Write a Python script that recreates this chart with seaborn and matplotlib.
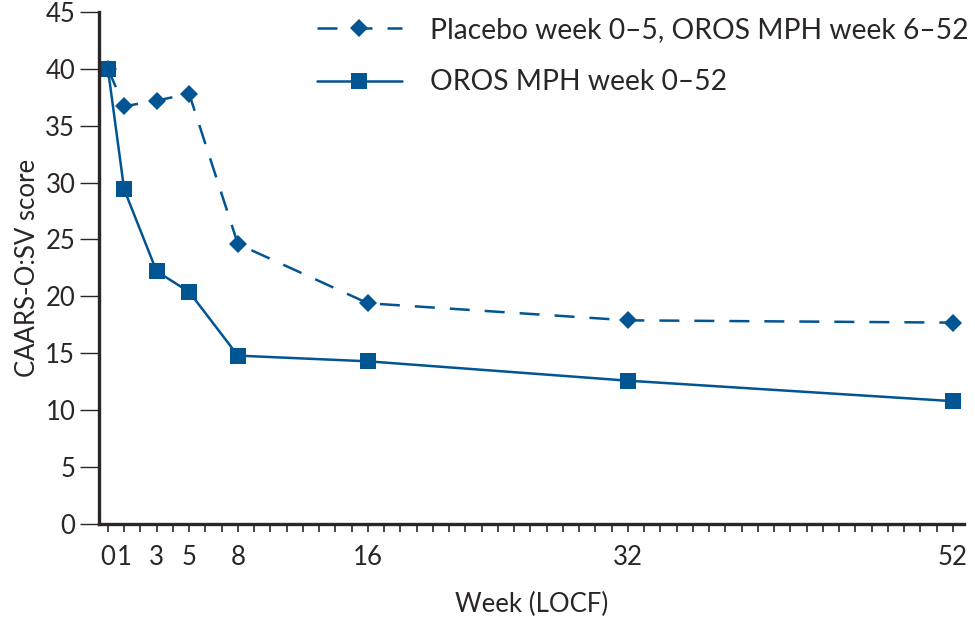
"""CAARS-O:SV score over 52 weeks, placebo-first vs OROS MPH throughout."""

import pandas as pd
import matplotlib.pyplot as plt
import seaborn as sns

weeks = [0, 1, 3, 5, 8, 16, 32, 52]
placebo_first = [40.0, 36.7, 37.2, 37.8, 24.6, 19.4, 17.9, 17.7]
oros_all = [40.0, 29.4, 22.2, 20.4, 14.8, 14.3, 12.6, 10.8]
y_ticks = [0, 5, 10, 15, 20, 25, 30, 35, 40, 45]

LBL_PLACEBO = "Placebo week 0\u20135, OROS MPH week 6\u201352"
LBL_OROS = "OROS MPH week 0\u201352"
BLUE = "#005592"
INK = "#2a2627"

sns.set_theme(style="ticks")
plt.rcParams['font.family'] = ['Lato', 'DejaVu Sans']

df = pd.DataFrame({"Week": weeks, "placebo": placebo_first, "oros": oros_all})

fig = plt.figure(figsize=(9.75, 6.21), dpi=100)
ax = fig.add_axes([0.1015, 0.156, 0.8875, 0.825])

sns.lineplot(data=df, x="Week", y="placebo", ax=ax, color=BLUE, lw=1.8,
             marker="D", markersize=9, markeredgewidth=0, dashes=False,
             label=LBL_PLACEBO)
ax.lines[-1].set_dashes((8, 6))
sns.lineplot(data=df, x="Week", y="oros", ax=ax, color=BLUE, lw=1.8,
             marker="s", markersize=11.5, markeredgewidth=0,
             label=LBL_OROS)

ax.set_xlim(-0.55, 52.7)
ax.set_ylim(0, 45)
ax.set_xticks(weeks)
ax.set_xticks(range(0, 53), minor=True)
ax.set_yticks(y_ticks)
ax.tick_params(axis='x', which='both', length=6, width=1.2, color=INK,
               labelsize=18.5, labelcolor=INK, pad=9)
ax.tick_params(axis='y', length=14, width=1, color=INK,
               labelsize=18.5, labelcolor=INK, pad=3)

for side in ['top', 'right']:
    ax.spines[side].set_visible(False)
for side in ['left', 'bottom']:
    ax.spines[side].set_linewidth(2.4)
    ax.spines[side].set_color(INK)

ax.set_xlabel("Week (LOCF)", fontsize=18.5, color=INK, labelpad=16)
ax.set_ylabel("CAARS-O:SV score", fontsize=18.5, color=INK, labelpad=4)

ax.legend(loc='upper right', bbox_to_anchor=(1.034, 1.04), frameon=False,
          fontsize=20.3, labelcolor=INK, handlelength=3.0, handletextpad=1.0,
          labelspacing=0.95)

fig.savefig("out.png", dpi=100)
